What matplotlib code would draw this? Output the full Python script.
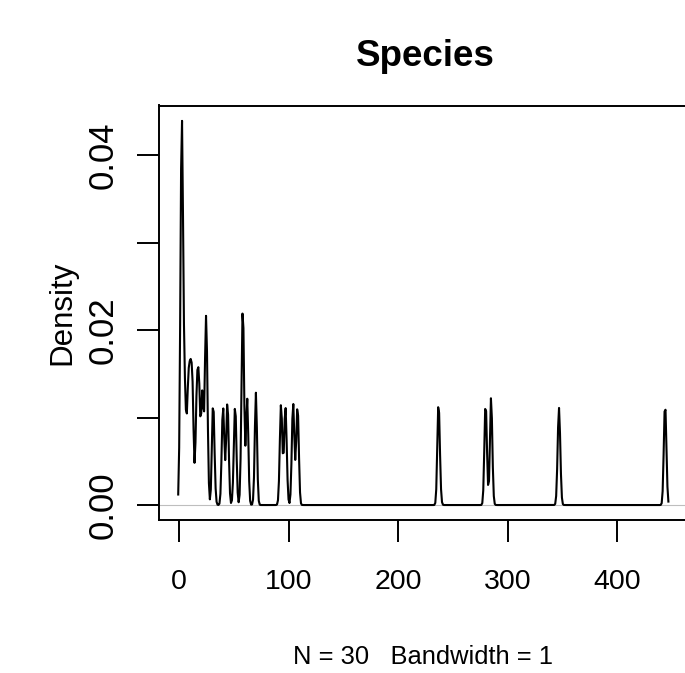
import numpy as np
import matplotlib
matplotlib.use("Agg")
import matplotlib.pyplot as plt

# number of species per island (30 observations)
species = [58, 31, 3, 25, 2, 18, 24, 10, 8, 2, 97, 93, 58, 5, 40,
           347, 51, 2, 104, 108, 12, 70, 280, 237, 444, 62, 285, 44, 16, 21]
bandwidth = 1.0
x_ticks = [0, 100, 200, 300, 400]
y_ticks = [0.00, 0.01, 0.02, 0.03, 0.04]
y_labels = ["0.00", "", "0.02", "", "0.04"]


def r_density(x, bw, n=512, cut=3):
    # same steps as R's density.default: linear binning + fft convolution
    x = np.asarray(x, float)
    nx = len(x)
    lo_from, hi_to = x.min() - cut * bw, x.max() + cut * bw
    lo, up = lo_from - 4 * bw, hi_to + 4 * bw
    y = np.zeros(2 * n)
    xdelta = (up - lo) / (n - 1)
    w = 1.0 / nx
    for xi in x:
        xpos = (xi - lo) / xdelta
        ix = int(np.floor(xpos))
        fx = xpos - ix
        if 0 <= ix <= n - 2:
            y[ix] += w * (1 - fx)
            y[ix + 1] += w * fx
    kords = np.linspace(0, 2 * (up - lo), 2 * n)
    kords[n + 1:] = -kords[n - 1:0:-1]
    kords = np.exp(-0.5 * (kords / bw) ** 2) / (bw * np.sqrt(2 * np.pi))
    conv = np.fft.ifft(np.fft.fft(y) * np.conj(np.fft.fft(kords))).real[:n]
    conv = np.maximum(conv, 0)
    xords = np.linspace(lo, up, n)
    xs = np.linspace(lo_from, hi_to, n)
    return xs, np.interp(xs, xords, conv)


dx, dy = r_density(species, bandwidth)

W, H = 685, 673
plt.rcParams['font.family'] = ['Liberation Sans', 'DejaVu Sans']
fig = plt.figure(figsize=(W / 100, H / 100), dpi=100)

left, right, top, bottom = 158.6, 688.0, 105.5, 520.4
ax = fig.add_axes([left / W, 1 - bottom / H, (right - left) / W, (bottom - top) / H])

ax.plot(dx, dy, color='black', lw=1.5)
ax.axhline(0, color='#BEBEBE', lw=0.8, zorder=0)

xr = dx.max() - dx.min()
ax.set_xlim(dx.min() - 0.04 * xr, dx.max() + 0.04 * xr)
yr = dy.max() - dy.min()
ax.set_ylim(dy.min() - 0.04 * yr, dy.max() + 0.04 * yr)

ax.set_xticks(x_ticks)
ax.set_xticklabels([str(t) for t in x_ticks])
ax.set_yticks(y_ticks)
ax.set_yticklabels(y_labels, rotation=90, va='center')
ax.tick_params(axis='both', direction='out', length=15.6, width=1.4,
               color='black')
ax.tick_params(axis='x', pad=19.5, labelsize=20.5)
ax.tick_params(axis='y', pad=12.5, labelsize=25)
for s in ax.spines.values():
    s.set_linewidth(1.4)

fig.text(425 / W, 1 - 66 / H, "Species", ha='center', va='baseline',
         fontsize=26.5, fontweight='bold')
fig.text(423 / W, 1 - 664 / H, "N = 30   Bandwidth = 1", ha='center',
         va='baseline', fontsize=18.4)
fig.text(62 / W, 1 - 313 / H, "Density", ha='center', va='center',
         rotation=90, fontsize=22.5)

fig.savefig("out.png", dpi=100)
plt.close(fig)
